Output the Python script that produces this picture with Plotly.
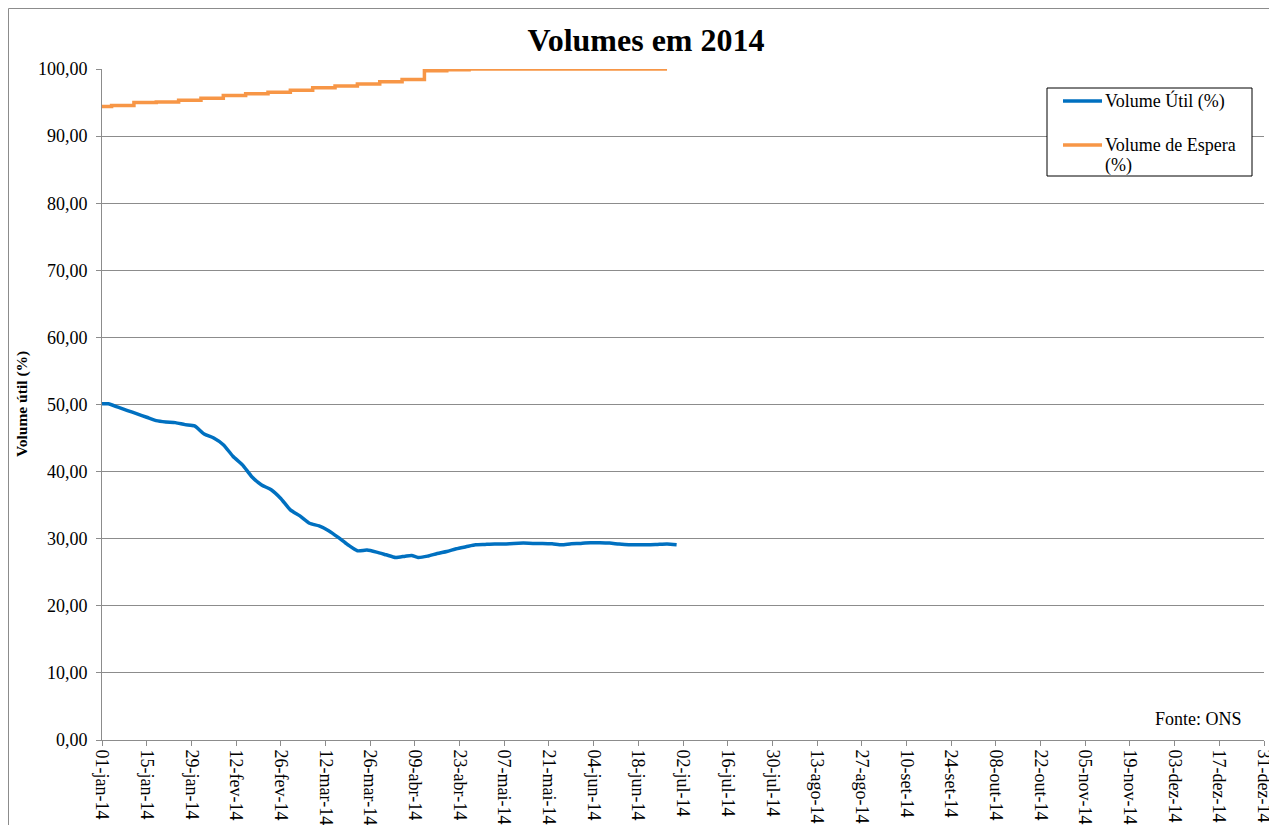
import plotly.graph_objects as go

# ---- data ----
util_dates = ["2014-01-01", "2014-01-03", "2014-01-06", "2014-01-09", "2014-01-12", "2014-01-15",
              "2014-01-18", "2014-01-21", "2014-01-24", "2014-01-27", "2014-01-30", "2014-02-02",
              "2014-02-05", "2014-02-08", "2014-02-11", "2014-02-14", "2014-02-17", "2014-02-20",
              "2014-02-23", "2014-02-26", "2014-03-01", "2014-03-04", "2014-03-07", "2014-03-10",
              "2014-03-13", "2014-03-16", "2014-03-19", "2014-03-22", "2014-03-25", "2014-03-28",
              "2014-03-31", "2014-04-03", "2014-04-06", "2014-04-08", "2014-04-10", "2014-04-13",
              "2014-04-16", "2014-04-19", "2014-04-22", "2014-04-25", "2014-04-28", "2014-05-01",
              "2014-05-04", "2014-05-07", "2014-05-10", "2014-05-13", "2014-05-16", "2014-05-19",
              "2014-05-22", "2014-05-25", "2014-05-28", "2014-05-31", "2014-06-03", "2014-06-06",
              "2014-06-09", "2014-06-12", "2014-06-15", "2014-06-18", "2014-06-21", "2014-06-24",
              "2014-06-27", "2014-06-30"]
util_values = [50.1, 50.1, 49.6, 49.1, 48.6, 48.1,
               47.6, 47.4, 47.3, 47.0, 46.8, 45.6,
               45.0, 44.0, 42.3, 41.0, 39.2, 38.0,
               37.3, 36.0, 34.3, 33.4, 32.3, 31.9,
               31.2, 30.2, 29.1, 28.2, 28.3, 28.0,
               27.6, 27.2, 27.4, 27.5, 27.2, 27.4,
               27.8, 28.1, 28.5, 28.8, 29.1, 29.15,
               29.2, 29.2, 29.3, 29.35, 29.3, 29.3,
               29.25, 29.1, 29.25, 29.3, 29.4, 29.4,
               29.35, 29.2, 29.1, 29.1, 29.1, 29.15,
               29.2, 29.1]

espera_dates = ["2014-01-01", "2014-01-04", "2014-01-11", "2014-01-18", "2014-01-25", "2014-02-01",
                "2014-02-08", "2014-02-15", "2014-02-22", "2014-03-01", "2014-03-08", "2014-03-15",
                "2014-03-22", "2014-03-29", "2014-04-05", "2014-04-12", "2014-04-19", "2014-04-26",
                "2014-06-27"]
espera_values = [94.4, 94.55, 95.0, 95.1, 95.35, 95.65,
                 96.05, 96.3, 96.55, 96.85, 97.2, 97.45,
                 97.75, 98.1, 98.45, 99.75, 99.9, 100.0,
                 100.0]

tick_dates = ["2014-01-01", "2014-01-15", "2014-01-29", "2014-02-12", "2014-02-26", "2014-03-12",
              "2014-03-26", "2014-04-09", "2014-04-23", "2014-05-07", "2014-05-21", "2014-06-04",
              "2014-06-18", "2014-07-02", "2014-07-16", "2014-07-30", "2014-08-13", "2014-08-27",
              "2014-09-10", "2014-09-24", "2014-10-08", "2014-10-22", "2014-11-05", "2014-11-19",
              "2014-12-03", "2014-12-17", "2014-12-31"]
tick_labels = ["01-jan-14", "15-jan-14", "29-jan-14", "12-fev-14", "26-fev-14", "12-mar-14",
               "26-mar-14", "09-abr-14", "23-abr-14", "07-mai-14", "21-mai-14", "04-jun-14",
               "18-jun-14", "02-jul-14", "16-jul-14", "30-jul-14", "13-ago-14", "27-ago-14",
               "10-set-14", "24-set-14", "08-out-14", "22-out-14", "05-nov-14", "19-nov-14",
               "03-dez-14", "17-dez-14", "31-dez-14"]

series_names = ["Volume Útil (%)", "Volume de Espera (%)"]
series_colors = ["#0070C0", "#F79646"]

FONT = "Liberation Serif, Times New Roman, serif"
GRID = "#8c8c8c"
FS = 18

# page offset (browser body margin)
OFF = 8
W, H = 1277 - OFF, 825 - OFF
# plot area in page pixels
L, R, T, B = 102, 1264, 69, 740
pw, ph = R - L, B - T


def px(x):
    return (x - L) / pw


def py(y):
    return (B - y) / ph


fig = go.Figure()
fig.add_trace(go.Scatter(
    x=util_dates, y=util_values, mode="lines", name=series_names[0],
    line=dict(color=series_colors[0], width=3.5, shape="spline", smoothing=0.6),
    cliponaxis=False))
fig.add_trace(go.Scatter(
    x=espera_dates, y=espera_values, mode="lines", name=series_names[1],
    line=dict(color=series_colors[1], width=3.5, shape="hv"),
    cliponaxis=False))

# legend box drawn by hand (Excel style)
LX0, LX1, LY0, LY1 = 1047, 1252, 88, 176
shapes = [
    dict(type="rect", xref="paper", yref="paper",
         x0=px(OFF + 0.5), x1=px(1290), y0=py(840), y1=py(OFF + 0.5),
         line=dict(color=GRID, width=1), fillcolor="rgba(0,0,0,0)", layer="below"),
    dict(type="rect", xref="paper", yref="paper",
         x0=px(LX0), x1=px(LX1), y0=py(LY1), y1=py(LY0),
         line=dict(color="black", width=1), fillcolor="white", layer="above"),
    dict(type="line", xref="paper", yref="paper",
         x0=px(1063), x1=px(1102), y0=py(101), y1=py(101),
         line=dict(color=series_colors[0], width=3.5)),
    dict(type="line", xref="paper", yref="paper",
         x0=px(1063), x1=px(1102), y0=py(145), y1=py(145),
         line=dict(color=series_colors[1], width=3.5)),
]

annotations = [
    dict(text="Volume Útil (%)", xref="paper", yref="paper", x=px(1103), y=py(101),
         xanchor="left", yanchor="middle", showarrow=False,
         font=dict(family=FONT, size=FS, color="black")),
    dict(text="Volume de Espera", xref="paper", yref="paper", x=px(1103), y=py(145),
         xanchor="left", yanchor="middle", showarrow=False,
         font=dict(family=FONT, size=FS, color="black")),
    dict(text="(%)", xref="paper", yref="paper", x=px(1103), y=py(165),
         xanchor="left", yanchor="middle", showarrow=False,
         font=dict(family=FONT, size=FS, color="black")),
    dict(text="Fonte: ONS", xref="paper", yref="paper",
         x=px(1244), y=py(719), xanchor="right", yanchor="middle",
         showarrow=False, font=dict(family=FONT, size=FS, color="black")),
    dict(text="<b>Volume útil (%)</b>", xref="paper", yref="paper",
         x=px(22), y=py(404), xanchor="center", yanchor="middle", textangle=-90,
         showarrow=False, font=dict(family=FONT, size=15.5, color="black")),
]

fig.update_layout(
    width=W, height=H,
    margin=dict(l=L - OFF, r=W - (R - OFF), t=T - OFF, b=H - (B - OFF), autoexpand=False),
    paper_bgcolor="white", plot_bgcolor="white",
    separators=",.",
    font=dict(family=FONT, size=FS, color="black"),
    title=dict(text="<b>Volumes em 2014</b>", x=(646 - OFF) / W, xref="container", xanchor="center",
               y=1 - (40 - OFF) / H, yref="container", yanchor="middle",
               font=dict(family=FONT, size=32, color="black")),
    showlegend=False,
    xaxis=dict(type="date", range=["2014-01-01", "2014-12-31"],
               tickvals=tick_dates, ticktext=tick_labels, tickangle=90,
               ticks="outside", ticklen=5, tickcolor=GRID, automargin=False,
               showline=True, linecolor=GRID, linewidth=1,
               showgrid=False, zeroline=False,
               tickfont=dict(family=FONT, size=FS, color="black")),
    yaxis=dict(range=[0, 100], dtick=10, tick0=0, tickformat=".2f",
               ticks="outside", ticklen=5, tickcolor=GRID, automargin=False,
               ticklabelstandoff=5,
               showline=True, linecolor=GRID, linewidth=1,
               showgrid=True, gridcolor=GRID, gridwidth=1, zeroline=False,
               tickfont=dict(family=FONT, size=FS, color="black")),
    annotations=annotations,
    shapes=shapes,
)

fig.write_html("out.html")
